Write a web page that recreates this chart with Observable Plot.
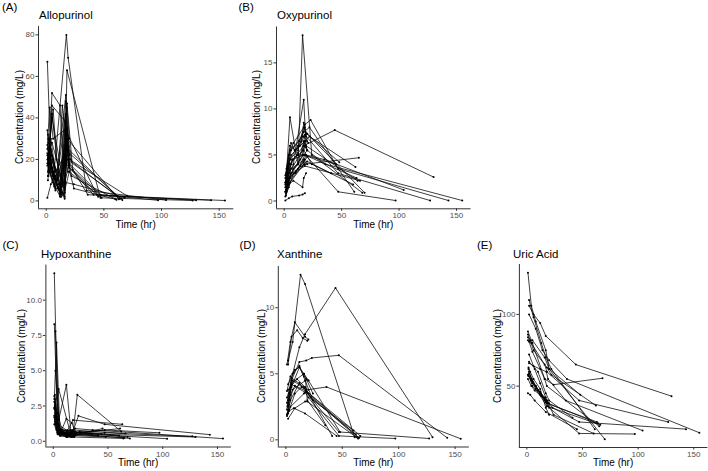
<!DOCTYPE html>
<html>
<head>
<meta charset="utf-8">
<script src="https://cdn.jsdelivr.net/npm/d3@7"></script>
<script src="https://cdn.jsdelivr.net/npm/@observablehq/plot@0.6"></script>
<style>
  html, body { margin: 0; padding: 0; background: #fff; }
  #root { position: relative; width: 708px; height: 471px; overflow: hidden;
          font-family: "Liberation Sans", Arial, Helvetica, sans-serif; }
  .cell { position: absolute; }
  .txt { position: absolute; white-space: nowrap; color: #000; font-weight: normal; }
</style>
</head>
<body>
<div id="root"></div>
<script>
// ---------------- data ----------------
const subjectIds = ["P01","P02","P03","P04","P05","P06","P07","P08","P09","P10","P11","P12","P13","P14",
                    "P15","P16","P17","P18","P19","P20","P21","P22","P23","P24","P25","P26","P27","P28"];

const sampleTimes = [
  [2, 8, 14, 20, 36, 155],
  [1.5, 5, 12, 18, 23, 47, 143],
  [2, 6, 12, 17, 44, 130],
  [1, 4, 16, 18, 47, 127],
  [2, 6, 17.5, 19, 35, 104],
  [1.5, 5, 17, 20, 47, 97],
  [1, 4, 8, 17, 20, 70],
  [2, 5, 12, 16, 24, 68],
  [1, 3, 6, 18, 22, 62],
  [2, 8, 17, 19, 64],
  [1.5, 4, 12, 18, 63],
  [1, 5, 16, 18, 65],
  [2, 6, 13, 17, 22, 61],
  [1, 3, 7, 17, 45],
  [2, 10, 17, 20, 41],
  [1, 5, 16, 20, 48],
  [1.5, 4, 8, 18, 66],
  [2, 7, 12, 17, 24, 60],
  [1, 4, 8, 12, 16, 18, 20],
  [2, 5, 10, 15, 17, 19],
  [1.5, 3, 6, 12, 17, 20],
  [1, 4, 7, 13, 16, 18],
  [2, 6, 9, 14, 17, 21],
  [1, 3, 5, 12, 18, 20],
  [2, 4, 8, 16, 17, 19],
  [1.5, 5, 11, 16, 18, 20],
  [1, 6, 12, 17, 19],
  [2, 4, 10, 14, 18]
];

const allopurinol = [
  [30, 12, 4, 18, 3, 0.2],
  [14, 42, 6, 47, 15, 2.5, 0.3],
  [24, 12, 5, 34, 3, 0.3],
  [67, 20, 8, 63, 1.5, 0.2],
  [20, 9, 80, 69, 5, 0.4],
  [12, 46, 38, 18, 3, 0.3],
  [34, 18, 6, 51, 20, 2.5],
  [18, 52, 46, 9, 8, 1.5],
  [27, 45, 30, 35, 19, 2],
  [15, 5, 42, 25, 1],
  [26, 16, 4, 30, 0.8],
  [22, 28, 6, 20, 1.2],
  [19, 12, 3, 26, 12, 0.6],
  [23, 14, 7, 18, 2],
  [30, 10, 28, 16, 3],
  [17, 40, 5, 14, 1.5],
  [21, 30, 14, 24, 0.5],
  [16, 8, 2, 22, 6, 0.8],
  [20, 25, 10, 4, 12, 35, 22],
  [28, 16, 6, 3, 38, 24],
  [10, 22, 14, 5, 30, 17],
  [1.5, 8, 12, 2, 4, 26],
  [24, 44, 20, 7, 32, 20],
  [18, 24, 16, 3, 45, 30],
  [12, 18, 9, 1, 20, 14],
  [32, 22, 8, 2, 28, 18],
  [25, 20, 8, 48, 30],
  [20, 14, 10, 46, 20]
];

const oxypurinol = [
  [1.5, 3.5, 4.5, 5.5, 4.0, 0.05],
  [2.0, 4.5, 6.0, 8.3, 8.8, 3.5, 0.05],
  [2.2, 4.0, 5.2, 6.0, 7.7, 2.6],
  [1.0, 3.0, 5.5, 7.2, 3.0, 0.05],
  [1.8, 3.5, 4.5, 5.0, 4.5, 1.2],
  [0.8, 2.5, 4.2, 4.8, 1.0, 0.05],
  [2.5, 5.0, 6.3, 8.0, 7.3, 0.9],
  [3.0, 9.1, 4.0, 18.0, 5.0, 0.9],
  [1.5, 3.5, 5.0, 6.5, 7.0, 3.7],
  [2.5, 4.0, 11.0, 6.0, 2.2],
  [1.2, 2.2, 3.5, 5.0, 2.5],
  [0.5, 2.0, 3.8, 4.0, 4.7],
  [3.0, 5.5, 6.5, 7.5, 8.0, 1.0],
  [2.0, 3.0, 4.5, 5.0, 4.0],
  [1.5, 3.0, 4.0, 4.3, 3.0],
  [2.8, 5.5, 7.0, 7.3, 4.2],
  [0.6, 1.5, 3.0, 3.8, 2.2],
  [2.0, 4.5, 5.0, 5.5, 4.0, 1.8],
  [1.0, 2.5, 3.5, 4.0, 5.0, 6.0, 5.5],
  [3.5, 6.0, 5.5, 6.5, 8.5, 7.0],
  [1.5, 2.0, 3.0, 3.5, 4.5, 4.0],
  [0.05, 0.3, 0.5, 0.6, 0.7, 0.85],
  [2.5, 6.3, 5.5, 6.0, 7.0, 6.3],
  [2.0, 3.5, 4.5, 5.5, 8.0, 6.5],
  [1.0, 1.8, 2.2, 1.5, 2.5, 3.0],
  [2.2, 4.0, 5.0, 5.0, 6.5, 5.5],
  [1.8, 3.0, 4.0, 6.5, 5.8],
  [1.2, 2.5, 3.2, 3.8, 4.5]
];

const hypoxanthine = [
  [1.8, 0.6, 0.5, 0.9, 0.8, 0.19],
  [2.5, 0.8, 0.6, 0.7, 1.8, 1.2, 0.47],
  [2.2, 0.6, 0.5, 0.7, 0.5, 0.3],
  [8.3, 1.2, 0.6, 0.5, 0.6, 0.35],
  [1.2, 0.4, 0.3, 0.4, 0.5, 0.18],
  [3.3, 0.9, 0.7, 0.6, 0.8, 0.6],
  [11.9, 2.0, 0.8, 0.6, 0.5, 0.2],
  [7.8, 1.5, 4.0, 0.8, 0.6, 0.3],
  [3.0, 7.0, 0.9, 0.5, 3.3, 0.7],
  [2.0, 0.5, 0.4, 0.3, 0.2],
  [1.8, 0.7, 0.6, 1.5, 1.2],
  [2.8, 0.5, 0.4, 0.5, 0.25],
  [1.5, 0.6, 0.8, 0.5, 0.6, 0.9],
  [3.2, 1.0, 0.6, 0.4, 0.9],
  [1.3, 0.5, 0.7, 0.6, 0.4],
  [2.4, 3.7, 0.5, 0.4, 0.3],
  [1.6, 1.0, 0.7, 0.8, 0.55],
  [2.0, 0.5, 0.3, 0.4, 0.7, 0.4],
  [1.7, 0.6, 0.5, 0.4, 0.5, 0.6, 0.5],
  [2.6, 0.7, 0.5, 0.4, 0.6, 0.5],
  [1.4, 0.8, 0.5, 1.6, 1.3, 0.7],
  [1.2, 0.5, 0.4, 0.3, 0.3, 0.4],
  [5.0, 0.7, 0.6, 0.5, 0.6, 0.5],
  [2.3, 0.9, 0.6, 0.5, 0.4, 0.5],
  [1.9, 0.6, 0.5, 0.4, 0.5, 0.3],
  [3.0, 0.8, 0.6, 0.5, 0.7, 0.6],
  [1.8, 0.5, 0.4, 0.3, 0.4],
  [1.5, 0.6, 0.5, 0.4, 0.6]
];

const xanthine = [
  [2.0, 3.5, 4.0, 3.8, 4.0, 0.08],
  [2.5, 4.5, 5.9, 6.0, 6.2, 6.4, 0.15],
  [3.0, 5.0, 7.0, 8.0, 11.5, 0.2],
  [1.8, 2.5, 3.5, 3.6, 0.6, 0.1],
  [2.2, 3.8, 4.5, 3.0, 1.1, null],
  [2.0, 4.2, 3.6, 3.2, 0.3, 0.1],
  [5.7, 7.4, 8.9, 7.8, 7.6, null],
  [2.6, 4.0, 5.5, 5.0, 3.5, null],
  [2.3, 3.5, 4.5, 3.8, 3.2, 0.4],
  [1.6, 2.4, 2.9, 2.9, 0.1],
  [2.0, 3.0, 4.3, 3.6, 0.2],
  [2.8, 4.7, 4.0, 3.7, 0.15],
  [6.0, 7.4, 12.5, 11.8, null, 0.2],
  [1.9, 2.2, 2.4, 2.0, 0.3],
  [3.8, 4.6, 4.0, 3.5, 0.3],
  [3.2, 4.3, 5.0, 4.5, 0.6],
  [2.6, 3.4, 4.1, 3.7, 0.3],
  [4.2, 5.1, 5.6, 4.5, 3.0, 0.7],
  [3.7, 4.8, 5.3, 5.5, 4.8, 4.6, 4.5],
  [5.7, 7.8, 8.3, 7.7, null, 7.5],
  [null, null, null, null, null, null],
  [null, null, null, null, null, null],
  [null, null, null, null, null, null],
  [null, null, null, null, null, null],
  [null, null, null, null, null, null],
  [null, null, null, null, null, null],
  [null, null, null, null, null],
  [null, null, null, null, null]
];

const uricAcid = [
  [100, 90, 75, 68, 55, 17.5],
  [58, 50, 44, 40, 35, 25, 20],
  [106, 100, 94, 85, 65, 43],
  [84, 80, 65, 60, 40, 25],
  [66, 64, 60, 55, 40, 19],
  [57, 52, 40, 35, 17, 16.6],
  [129, 106, 95, 75, 62, 13],
  [81, 74, 62, 55, 51, 55.5],
  [86, 82, 75, 63, 58, 36.5],
  [59, 50, 40, 38, 24],
  [62, 55, 45, 38, 25],
  [88, 80, 55, 50, 22],
  [110, 98, 80, 70, 62, 20],
  [45, 44, 40, 32, 20],
  [67, 60, 45, 40, 28],
  [82, 82, 70, 62, 44],
  [57, 54, 48, 36, 23],
  [72, 62, 52, 42, 30, 17],
  [58, 55, 50, 46, 42, 40, 38],
  [60, 53, 47, 42, 39, 36],
  [63, 60, 55, 48, 35, 30],
  [55, 50, 47, 43, 40, 38],
  [null, null, null, null, null, null],
  [null, null, null, null, null, null],
  [null, null, null, null, null, null],
  [null, null, null, null, null, null],
  [null, null, null, null, null],
  [null, null, null, null, null]
];

const xTicks = [0, 50, 100, 150];
const allopurinolTicks = [0, 20, 40, 60, 80];
const oxypurinolTicks = [0, 5, 10, 15];
const hypoxanthineTicks = [0, 2.5, 5, 7.5, 10];
const xanthineTicks = [0, 5, 10];
const uricAcidTicks = [50, 100];

const panelTags = ["(A)", "(B)", "(C)", "(D)", "(E)"];
const panelTitles = ["Allopurinol", "Oxypurinol", "Hypoxanthine", "Xanthine", "Uric Acid"];
const xLabel = "Time (hr)";
const yLabel = "Concentration (mg/L)";

// ---------------- layout ----------------
const panels = [
  { values: allopurinol, ticks: allopurinolTicks, fmt: null,
    cell: [0, 0, 236, 236], frame: { l: 38, r: 233.3, t: 26.1, b: 208.3 },
    tag: [2, 7.5], title: [39, 16], yLabX: 19.5, xLabY: 224.5 },
  { values: oxypurinol, ticks: oxypurinolTicks, fmt: null,
    cell: [236, 0, 236, 236], frame: { l: 276, r: 470.6, t: 26.5, b: 208.3 },
    tag: [238.5, 7.5], title: [277, 16], yLabX: 257, xLabY: 224.5 },
  { values: hypoxanthine, ticks: hypoxanthineTicks, fmt: d3.format(".1f"),
    cell: [0, 236, 236, 235], frame: { l: 45.4, r: 230.9, t: 264.6, b: 446.5 },
    tag: [2.5, 246], title: [41, 254.5], yLabX: 22, xLabY: 463 },
  { values: xanthine, ticks: xanthineTicks, fmt: null,
    cell: [236, 236, 236, 235], frame: { l: 277.8, r: 468.9, t: 266, b: 446.5 },
    tag: [239.5, 246], title: [277, 254.5], yLabX: 262, xLabY: 463 },
  { values: uricAcid, ticks: uricAcidTicks, fmt: null,
    cell: [472, 236, 236, 235], frame: { l: 518.9, r: 707.4, t: 264, b: 447 },
    tag: [477, 246], title: [513, 254.5], yLabX: 498, xLabY: 463 }
];

const FONT = '"Liberation Sans", Arial, Helvetica, sans-serif';
const root = document.getElementById("root");

function addText(str, left, cy, size, extra = "") {
  const d = document.createElement("div");
  d.className = "txt";
  d.textContent = str;
  d.style.cssText += `left:${left}px;top:${cy - size / 2}px;font-size:${size}px;line-height:${size}px;` + extra;
  root.appendChild(d);
  return d;
}

function expand(ext) {
  const pad = (ext[1] - ext[0]) * 0.05;
  return [ext[0] - pad, ext[1] + pad];
}

panels.forEach((p, k) => {
  const rows = [];
  subjectIds.forEach((id, i) => {
    sampleTimes[i].forEach((t, j) => {
      const c = p.values[i][j];
      if (c != null) rows.push({ id, t, c });
    });
  });
  const xDomain = expand(d3.extent(rows, d => d.t));
  const yDomain = expand(d3.extent(rows, d => d.c));
  const [cl, ct, cw, ch] = p.cell;
  const f = p.frame;

  const chart = Plot.plot({
    width: cw, height: ch,
    marginLeft: f.l - cl, marginRight: cl + cw - f.r,
    marginTop: f.t - ct, marginBottom: ct + ch - f.b,
    x: { domain: xDomain },
    y: { domain: yDomain },
    style: { fontFamily: FONT, fontSize: "8px", background: "transparent", overflow: "visible" },
    marks: [
      Plot.axisX({ ticks: xTicks, tickSize: 2.5, tickPadding: 1.5, label: null, stroke: "#333333", fill: "#4D4D4D" }),
      Plot.axisY({ ticks: p.ticks, tickSize: 2.5, tickPadding: 1.5, label: null, stroke: "#333333", fill: "#4D4D4D",
                   ...(p.fmt ? { tickFormat: p.fmt } : {}) }),
      Plot.ruleX([xDomain[0]], { stroke: "#333333", strokeWidth: 1 }),
      Plot.ruleY([yDomain[0]], { stroke: "#333333", strokeWidth: 1 }),
      Plot.line(rows, { x: "t", y: "c", z: "id", stroke: "#000", strokeWidth: 0.75 }),
      Plot.dot(rows, { x: "t", y: "c", r: 1, fill: "#000", stroke: "none" })
    ]
  });
  const cell = document.createElement("div");
  cell.className = "cell";
  cell.style.left = cl + "px";
  cell.style.top = ct + "px";
  cell.appendChild(chart);
  root.appendChild(cell);

  addText(panelTags[k], p.tag[0], p.tag[1], 11.5);
  addText(panelTitles[k], p.title[0], p.title[1], 11.5);
  addText(xLabel, (f.l + f.r) / 2, p.xLabY, 10, "transform:translateX(-50%);");
  addText(yLabel, p.yLabX, (f.t + f.b) / 2, 10,
    "transform:translate(-50%,0) rotate(-90deg);transform-origin:50% 50%;");
});
</script>
</body>
</html>
